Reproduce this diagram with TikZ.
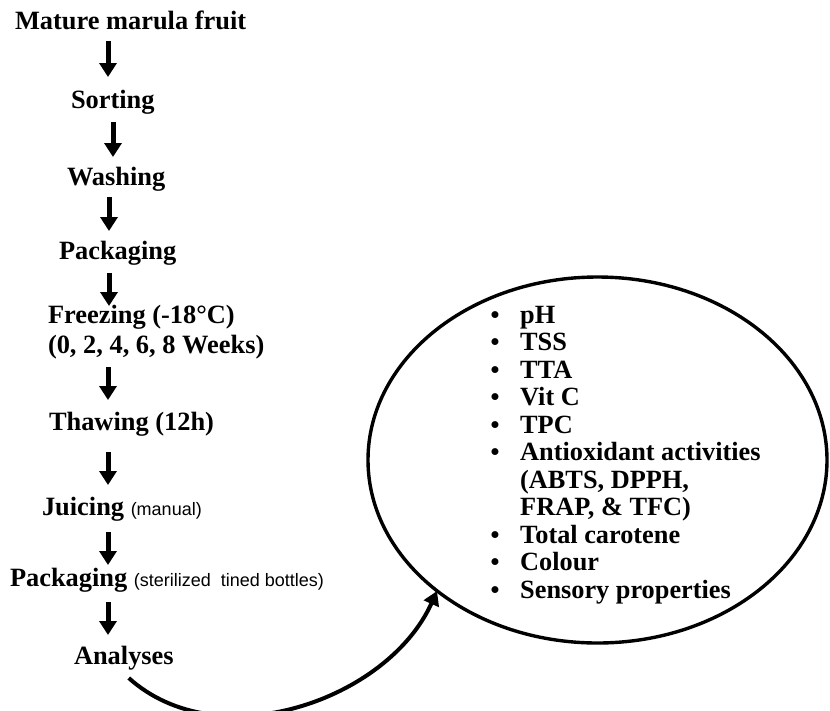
\documentclass[tikz,border=0pt]{standalone}
\usepackage{fontspec}
\setmainfont{Liberation Serif}
\newfontfamily\parfont{Liberation Sans}
\newcommand\notefont{\fontsize{18}{20}\selectfont\mdseries\parfont}
\usetikzlibrary{shapes.geometric,arrows.meta}
\begin{document}
\begin{tikzpicture}[x=1pt,y=-1pt,
  stepnode/.style={anchor=base west,inner sep=0pt,outer sep=0pt,text height=18pt,text depth=6pt,font=\fontsize{26.4}{28}\selectfont\bfseries},
  listtext/.style={anchor=base west,inner sep=0pt,font=\fontsize{26.3}{28}\selectfont\bfseries},
  listbullet/.style={anchor=base,inner sep=0pt,font=\fontsize{25.5}{28}\selectfont\bfseries},
  downarrow/.style={line width=5pt,-{Triangle[width=17pt,length=14pt]}},
  curvearrow/.style={line width=4pt,-{Triangle[width=16pt,length=14pt]}}]
\useasboundingbox (0,0) rectangle (830,710);
\fill[white] (0,0) rectangle (830,710);

\node[stepnode] (fruit) at (15,29) {Mature marula fruit};
\node[stepnode] (sort) at (71,108) {Sorting};
\node[stepnode] (wash) at (67,185) {Washing};
\node[stepnode] (pack) at (59,259) {Packaging};
\node[stepnode] (freezeA) at (48,323) {Freezing (-18°C)};
\node[stepnode] (freezeB) at (48,353) {(0, 2, 4, 6, 8 Weeks)};
\node[stepnode] (thaw) at (49,430) {Thawing (12h)};
\node[stepnode] (juice) at (42,515) {Juicing {\notefont (manual)}};
\node[stepnode] (packb) at (10,586) {Packaging {\notefont (sterilized\ \ tined bottles)}};
\node[stepnode] (anal) at (74,664) {Analyses};

\coordinate (axA) at (108,0);
\coordinate (axB) at (113,0);
\coordinate (axC) at (109,0);

\draw[downarrow] ([yshift=-12pt]fruit.base -| axA) -- ([yshift=13pt]sort.north -| axA);
\draw[downarrow] ([yshift=-8pt]sort.south -| axB) -- ([yshift=10pt]wash.north -| axB);
\draw[downarrow] ([yshift=-6pt]wash.south -| axC) -- ([yshift=10pt]pack.north -| axC);
\draw[downarrow] ([yshift=-8pt]pack.south -| axC) -- ([yshift=-1pt]freezeA.north -| axC);
\draw[downarrow] ([yshift=-8pt]freezeB.south -| axA) -- ([yshift=12pt]thaw.north -| axA);
\draw[downarrow] ([yshift=-16pt]thaw.south -| axA) -- ([yshift=12pt]juice.north -| axA);
\draw[downarrow] ([yshift=-11pt]juice.south -| axA) -- ([yshift=3pt]packb.north -| axA);
\draw[downarrow] ([yshift=-10pt]packb.south -| axA) -- ([yshift=11pt]anal.north -| axA);

\node[ellipse,draw,line width=3.4pt,minimum width=459pt,minimum height=366pt,inner sep=0pt] (ell) at (597.5,460) {};

\foreach \t [count=\i] in {pH,TSS,TTA,Vit C,TPC,Antioxidant activities,{(ABTS, DPPH,}, {FRAP, \& TFC)},Total carotene,Colour,Sensory properties}{
  \node[listtext] (item\i) at (520,{323+27.5*(\i-1)}) {\t};
}
\foreach \i in {1,2,3,4,5,6,9,10,11}{
  \node[listbullet] (bul\i) at (495,{323+27.5*(\i-1)}) {\textbullet};
}

\coordinate (tip) at (437,591);
\draw[curvearrow] (anal.south east) ++(-45,8) coordinate (cstart)
  .. controls +(90,81) and +(-49,109) .. (tip);
\end{tikzpicture}
\end{document}
